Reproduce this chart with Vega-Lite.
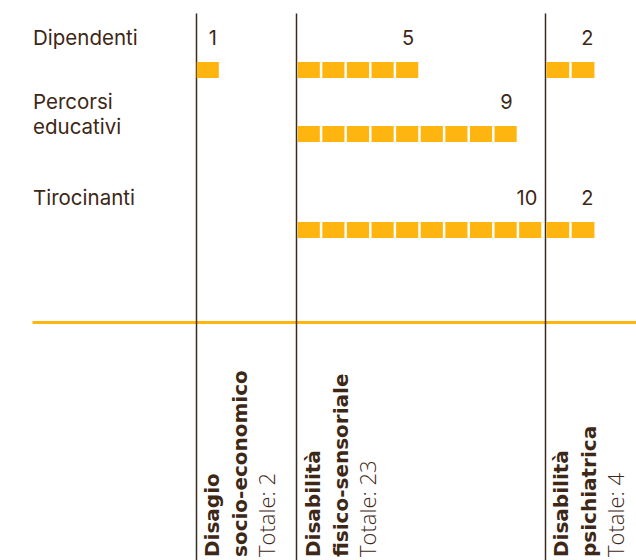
{
  "$schema": "https://vega.github.io/schema/vega-lite/v6.json",
  "padding": {"left": 32, "top": 13, "right": 0, "bottom": 0},
  "background": "white",
  "spacing": 0,
  "bounds": "flush",
  "config": {
    "view": {"stroke": null},
    "concat": {"spacing": 0},
    "axis": {"grid": false}
  },
  "datasets": {
    "righe": [
      {"tipo": "Dipendenti"},
      {"tipo": "Percorsi educativi"},
      {"tipo": "Tirocinanti"}
    ],
    "celle": [
      {"categoria": "Disagio socio-economico", "tipo": "Dipendenti", "k": 1},
      {"categoria": "Disabilità fisico-sensoriale", "tipo": "Dipendenti", "k": 1},
      {"categoria": "Disabilità fisico-sensoriale", "tipo": "Dipendenti", "k": 2},
      {"categoria": "Disabilità fisico-sensoriale", "tipo": "Dipendenti", "k": 3},
      {"categoria": "Disabilità fisico-sensoriale", "tipo": "Dipendenti", "k": 4},
      {"categoria": "Disabilità fisico-sensoriale", "tipo": "Dipendenti", "k": 5},
      {"categoria": "Disabilità fisico-sensoriale", "tipo": "Percorsi educativi", "k": 1},
      {"categoria": "Disabilità fisico-sensoriale", "tipo": "Percorsi educativi", "k": 2},
      {"categoria": "Disabilità fisico-sensoriale", "tipo": "Percorsi educativi", "k": 3},
      {"categoria": "Disabilità fisico-sensoriale", "tipo": "Percorsi educativi", "k": 4},
      {"categoria": "Disabilità fisico-sensoriale", "tipo": "Percorsi educativi", "k": 5},
      {"categoria": "Disabilità fisico-sensoriale", "tipo": "Percorsi educativi", "k": 6},
      {"categoria": "Disabilità fisico-sensoriale", "tipo": "Percorsi educativi", "k": 7},
      {"categoria": "Disabilità fisico-sensoriale", "tipo": "Percorsi educativi", "k": 8},
      {"categoria": "Disabilità fisico-sensoriale", "tipo": "Percorsi educativi", "k": 9},
      {"categoria": "Disabilità fisico-sensoriale", "tipo": "Tirocinanti", "k": 1},
      {"categoria": "Disabilità fisico-sensoriale", "tipo": "Tirocinanti", "k": 2},
      {"categoria": "Disabilità fisico-sensoriale", "tipo": "Tirocinanti", "k": 3},
      {"categoria": "Disabilità fisico-sensoriale", "tipo": "Tirocinanti", "k": 4},
      {"categoria": "Disabilità fisico-sensoriale", "tipo": "Tirocinanti", "k": 5},
      {"categoria": "Disabilità fisico-sensoriale", "tipo": "Tirocinanti", "k": 6},
      {"categoria": "Disabilità fisico-sensoriale", "tipo": "Tirocinanti", "k": 7},
      {"categoria": "Disabilità fisico-sensoriale", "tipo": "Tirocinanti", "k": 8},
      {"categoria": "Disabilità fisico-sensoriale", "tipo": "Tirocinanti", "k": 9},
      {"categoria": "Disabilità fisico-sensoriale", "tipo": "Tirocinanti", "k": 10},
      {"categoria": "Disabilità psichiatrica", "tipo": "Dipendenti", "k": 1},
      {"categoria": "Disabilità psichiatrica", "tipo": "Dipendenti", "k": 2},
      {"categoria": "Disabilità psichiatrica", "tipo": "Tirocinanti", "k": 1},
      {"categoria": "Disabilità psichiatrica", "tipo": "Tirocinanti", "k": 2}
    ],
    "valori": [
      {"categoria": "Disagio socio-economico", "tipo": "Dipendenti", "valore": 1},
      {"categoria": "Disabilità fisico-sensoriale", "tipo": "Dipendenti", "valore": 5},
      {"categoria": "Disabilità fisico-sensoriale", "tipo": "Percorsi educativi", "valore": 9},
      {"categoria": "Disabilità fisico-sensoriale", "tipo": "Tirocinanti", "valore": 10},
      {"categoria": "Disabilità psichiatrica", "tipo": "Dipendenti", "valore": 2},
      {"categoria": "Disabilità psichiatrica", "tipo": "Tirocinanti", "valore": 2}
    ],
    "categorie": [
      {"categoria": "Disagio socio-economico", "nota": "Totale: 2"},
      {"categoria": "Disabilità fisico-sensoriale", "nota": "Totale: 23"},
      {"categoria": "Disabilità psichiatrica", "nota": "Totale: 4"}
    ]
  },
  "hconcat": [
    {
      "width": 164,
      "height": 547,
      "data": {"name": "righe"},
      "mark": {"type": "text", "align": "left", "baseline": "alphabetic", "dx": 1, "dy": -25, "lineBreak": " ", "lineHeight": 25, "font": "Inter", "fontSize": 20.5, "color": "#3d2716"},
      "encoding": {
        "x": {"datum": 0, "type": "quantitative", "scale": {"domain": [0, 1]}, "axis": {"orient": "bottom", "offset": -238, "domain": true, "domainColor": "#FFB50F", "domainWidth": 3, "ticks": false, "labels": false, "title": null}},
        "y": {"field": "tipo", "type": "nominal", "scale": {"type": "point", "domain": ["Dipendenti", "_a", "Percorsi educativi", "_b", "_c", "Tirocinanti"], "range": [57, 217], "padding": 0}, "axis": null},
        "text": {"field": "tipo"}
      }
    },
    {
      "width": 100,
      "height": 547,
      "resolve": {"scale": {"y": "independent"}},
      "layer": [
        {
          "data": {"name": "categorie"},
          "transform": [{"filter": "datum.categoria === 'Disagio socio-economico'"}],
          "mark": {"type": "text", "angle": 270, "align": "left", "baseline": "alphabetic", "dx": 3, "dy": 22, "lineBreak": " ", "lineHeight": 28, "font": "DejaVu Sans", "fontWeight": "bold", "fontSize": 20, "color": "#3d2716"},
          "encoding": {
            "x": {"datum": 1, "type": "ordinal", "bandPosition": 0, "scale": {"type": "band", "domain": [1, 2, 3, 4], "paddingInner": 0.1, "paddingOuter": 0.0825, "align": 0.17, "round": false}, "axis": {"orient": "bottom", "offset": -238, "domain": true, "domainColor": "#FFB50F", "domainWidth": 3, "ticks": false, "labels": false, "title": null}},
            "y": {"datum": 0, "type": "quantitative", "scale": {"domain": [0, 1]}, "axis": {"orient": "left", "domain": true, "domainColor": "#3b2a1e", "domainWidth": 1.5, "ticks": false, "labels": false, "title": null}},
            "text": {"field": "categoria"}
          }
        },
        {
          "data": {"name": "categorie"},
          "transform": [{"filter": "datum.categoria === 'Disagio socio-economico'"}],
          "mark": {"type": "text", "angle": 270, "align": "left", "baseline": "alphabetic", "dx": 3, "dy": 78, "font": "Open Sans", "fontWeight": 300, "fontSize": 22, "color": "#3d2716"},
          "encoding": {
            "x": {"datum": 1, "type": "ordinal", "bandPosition": 0},
            "y": {"datum": 0, "type": "quantitative", "scale": {"domain": [0, 1]}, "axis": null},
            "text": {"field": "nota"}
          }
        },
        {
          "data": {"name": "celle"},
          "transform": [{"filter": "datum.categoria === 'Disagio socio-economico'"}],
          "mark": {"type": "bar", "color": "#FFB50F", "height": 16},
          "encoding": {
            "x": {"field": "k", "type": "ordinal"},
            "y": {"field": "tipo", "type": "nominal", "scale": {"type": "point", "domain": ["Dipendenti", "_a", "Percorsi educativi", "_b", "_c", "Tirocinanti"], "range": [57, 217], "padding": 0}, "axis": null}
          }
        },
        {
          "data": {"name": "valori"},
          "transform": [{"filter": "datum.categoria === 'Disagio socio-economico'"}],
          "mark": {"type": "text", "align": "right", "baseline": "alphabetic", "dx": -2, "dy": -25, "font": "Inter", "fontSize": 20, "color": "#3d2716"},
          "encoding": {
            "x": {"field": "valore", "type": "ordinal", "bandPosition": 1},
            "y": {"field": "tipo", "type": "nominal", "scale": {"type": "point", "domain": ["Dipendenti", "_a", "Percorsi educativi", "_b", "_c", "Tirocinanti"], "range": [57, 217], "padding": 0}, "axis": null},
            "text": {"field": "valore"}
          }
        }
      ]
    },
    {
      "width": 249,
      "height": 547,
      "resolve": {"scale": {"y": "independent"}},
      "layer": [
        {
          "data": {"name": "categorie"},
          "transform": [{"filter": "datum.categoria === 'Disabilità fisico-sensoriale'"}],
          "mark": {"type": "text", "angle": 270, "align": "left", "baseline": "alphabetic", "dx": 3, "dy": 22, "lineBreak": " ", "lineHeight": 28, "font": "DejaVu Sans", "fontWeight": "bold", "fontSize": 20, "color": "#3d2716"},
          "encoding": {
            "x": {"datum": 1, "type": "ordinal", "bandPosition": 0, "scale": {"type": "band", "domain": [1, 2, 3, 4, 5, 6, 7, 8, 9, 10], "paddingInner": 0.1, "paddingOuter": 0.11, "align": 0.314, "round": false}, "axis": {"orient": "bottom", "offset": -238, "domain": true, "domainColor": "#FFB50F", "domainWidth": 3, "ticks": false, "labels": false, "title": null}},
            "y": {"datum": 0, "type": "quantitative", "scale": {"domain": [0, 1]}, "axis": {"orient": "left", "domain": true, "domainColor": "#3b2a1e", "domainWidth": 1.5, "ticks": false, "labels": false, "title": null}},
            "text": {"field": "categoria"}
          }
        },
        {
          "data": {"name": "categorie"},
          "transform": [{"filter": "datum.categoria === 'Disabilità fisico-sensoriale'"}],
          "mark": {"type": "text", "angle": 270, "align": "left", "baseline": "alphabetic", "dx": 3, "dy": 78, "font": "Open Sans", "fontWeight": 300, "fontSize": 22, "color": "#3d2716"},
          "encoding": {
            "x": {"datum": 1, "type": "ordinal", "bandPosition": 0},
            "y": {"datum": 0, "type": "quantitative", "scale": {"domain": [0, 1]}, "axis": null},
            "text": {"field": "nota"}
          }
        },
        {
          "data": {"name": "celle"},
          "transform": [{"filter": "datum.categoria === 'Disabilità fisico-sensoriale'"}],
          "mark": {"type": "bar", "color": "#FFB50F", "height": 16},
          "encoding": {
            "x": {"field": "k", "type": "ordinal"},
            "y": {"field": "tipo", "type": "nominal", "scale": {"type": "point", "domain": ["Dipendenti", "_a", "Percorsi educativi", "_b", "_c", "Tirocinanti"], "range": [57, 217], "padding": 0}, "axis": null}
          }
        },
        {
          "data": {"name": "valori"},
          "transform": [{"filter": "datum.categoria === 'Disabilità fisico-sensoriale'"}],
          "mark": {"type": "text", "align": "right", "baseline": "alphabetic", "dx": -4, "dy": -25, "font": "Inter", "fontSize": 20, "color": "#3d2716"},
          "encoding": {
            "x": {"field": "valore", "type": "ordinal", "bandPosition": 1},
            "y": {"field": "tipo", "type": "nominal", "scale": {"type": "point", "domain": ["Dipendenti", "_a", "Percorsi educativi", "_b", "_c", "Tirocinanti"], "range": [57, 217], "padding": 0}, "axis": null},
            "text": {"field": "valore"}
          }
        }
      ]
    },
    {
      "width": 91,
      "height": 547,
      "resolve": {"scale": {"y": "independent"}},
      "layer": [
        {
          "data": {"name": "categorie"},
          "transform": [{"filter": "datum.categoria === 'Disabilità psichiatrica'"}],
          "mark": {"type": "text", "angle": 270, "align": "left", "baseline": "alphabetic", "dx": 3, "dy": 22, "lineBreak": " ", "lineHeight": 28, "font": "DejaVu Sans", "fontWeight": "bold", "fontSize": 20, "color": "#3d2716"},
          "encoding": {
            "x": {"datum": 1, "type": "ordinal", "bandPosition": 0, "scale": {"type": "band", "domain": [1, 2, 3], "paddingInner": 0.1, "paddingOuter": 0.35, "align": 0.08, "round": false}, "axis": {"orient": "bottom", "offset": -238, "domain": true, "domainColor": "#FFB50F", "domainWidth": 3, "ticks": false, "labels": false, "title": null}},
            "y": {"datum": 0, "type": "quantitative", "scale": {"domain": [0, 1]}, "axis": {"orient": "left", "domain": true, "domainColor": "#3b2a1e", "domainWidth": 1.5, "ticks": false, "labels": false, "title": null}},
            "text": {"field": "categoria"}
          }
        },
        {
          "data": {"name": "categorie"},
          "transform": [{"filter": "datum.categoria === 'Disabilità psichiatrica'"}],
          "mark": {"type": "text", "angle": 270, "align": "left", "baseline": "alphabetic", "dx": 3, "dy": 78, "font": "Open Sans", "fontWeight": 300, "fontSize": 22, "color": "#3d2716"},
          "encoding": {
            "x": {"datum": 1, "type": "ordinal", "bandPosition": 0},
            "y": {"datum": 0, "type": "quantitative", "scale": {"domain": [0, 1]}, "axis": null},
            "text": {"field": "nota"}
          }
        },
        {
          "data": {"name": "celle"},
          "transform": [{"filter": "datum.categoria === 'Disabilità psichiatrica'"}],
          "mark": {"type": "bar", "color": "#FFB50F", "height": 16},
          "encoding": {
            "x": {"field": "k", "type": "ordinal"},
            "y": {"field": "tipo", "type": "nominal", "scale": {"type": "point", "domain": ["Dipendenti", "_a", "Percorsi educativi", "_b", "_c", "Tirocinanti"], "range": [57, 217], "padding": 0}, "axis": null}
          }
        },
        {
          "data": {"name": "valori"},
          "transform": [{"filter": "datum.categoria === 'Disabilità psichiatrica'"}],
          "mark": {"type": "text", "align": "right", "baseline": "alphabetic", "dx": -1, "dy": -25, "font": "Inter", "fontSize": 20, "color": "#3d2716"},
          "encoding": {
            "x": {"field": "valore", "type": "ordinal", "bandPosition": 1},
            "y": {"field": "tipo", "type": "nominal", "scale": {"type": "point", "domain": ["Dipendenti", "_a", "Percorsi educativi", "_b", "_c", "Tirocinanti"], "range": [57, 217], "padding": 0}, "axis": null},
            "text": {"field": "valore"}
          }
        }
      ]
    }
  ]
}
